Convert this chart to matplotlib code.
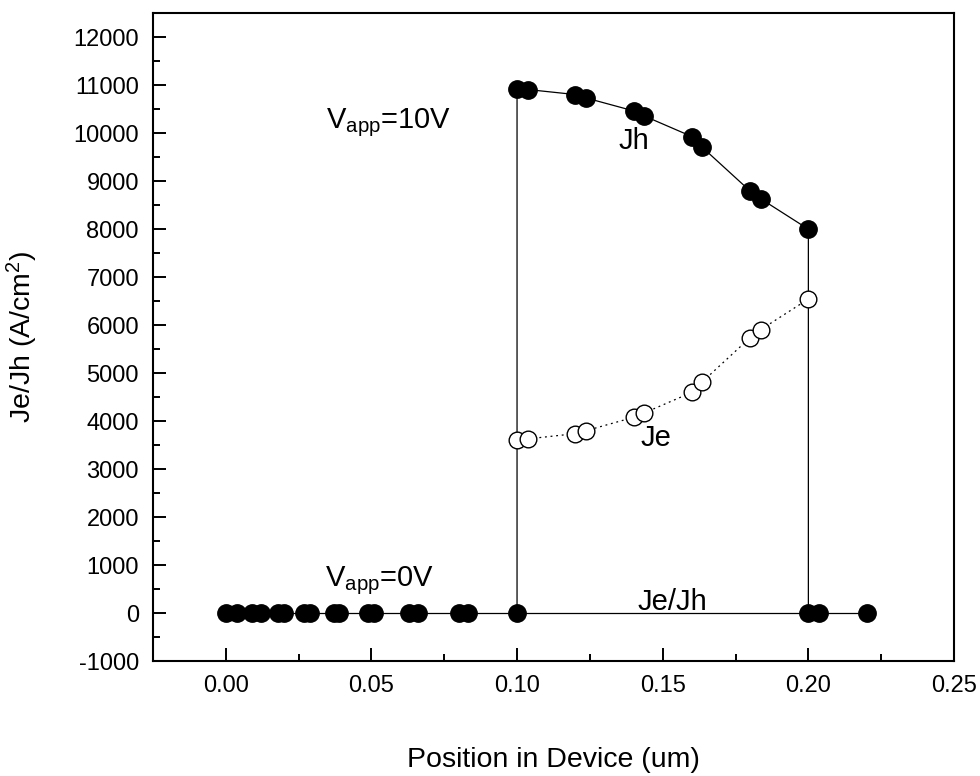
import numpy as np
import matplotlib
matplotlib.use('Agg')
import matplotlib.pyplot as plt
from matplotlib.ticker import MultipleLocator

plt.rcParams['font.family'] = ['Liberation Sans', 'DejaVu Sans']
plt.rcParams['mathtext.fontset'] = 'custom'
plt.rcParams['mathtext.rm'] = 'Liberation Sans'
plt.rcParams['mathtext.it'] = 'Liberation Sans'
plt.rcParams['axes.unicode_minus'] = False

# data
zero_x = [0.0, 0.004, 0.009, 0.012, 0.018, 0.020, 0.027, 0.029, 0.037, 0.039,
          0.049, 0.051, 0.063, 0.066, 0.080, 0.083, 0.100,
          0.200, 0.2036, 0.220]
zero_y = [0] * len(zero_x)

jh_x = [0.100, 0.1036, 0.120, 0.1236, 0.140, 0.1436, 0.160, 0.1636, 0.180, 0.1836, 0.200]
jh_y = [10930, 10910, 10805, 10735, 10465, 10360, 9930, 9705, 8795, 8635, 8000]

je_x = [0.100, 0.1036, 0.120, 0.1236, 0.140, 0.1436, 0.160, 0.1636, 0.180, 0.1836, 0.200]
je_y = [3600, 3630, 3740, 3800, 4080, 4170, 4600, 4820, 5740, 5905, 6545]

fig = plt.figure(figsize=(9.8, 7.76), dpi=100)
ax = fig.add_axes([0.156, 0.148, 0.8175, 0.835])

# zero line (Je/Jh at 0V)
ax.plot(zero_x, zero_y, color='black', lw=0.9, zorder=2)
ax.plot(zero_x, zero_y, 'o', color='black', ms=12.5, zorder=3)

# Jh with vertical jumps at the device edges
ax.plot([jh_x[0]] + jh_x + [jh_x[-1]], [0] + jh_y + [0], color='black', lw=0.9, zorder=2)
ax.plot(jh_x, jh_y, 'o', color='black', ms=12.5, zorder=3)

# Je dotted
ax.plot(je_x, je_y, color='black', lw=0.9, ls=(0, (1.5, 3)), zorder=2)
ax.plot(je_x, je_y, 'o', mfc='white', mec='black', mew=1.0, ms=12, zorder=3)

ax.text(0.0345, 10100, r'V$_{\mathrm{app}}$=10V', fontsize=21, va='baseline')
ax.text(0.034, 570, r'V$_{\mathrm{app}}$=0V', fontsize=21, va='baseline')
ax.text(0.135, 9680, 'Jh', fontsize=21, va='baseline')
ax.text(0.1425, 3480, 'Je', fontsize=21, va='baseline')
ax.text(0.1413, 70, 'Je/Jh', fontsize=21, va='baseline')

ax.set_xlim(-0.025, 0.25)
ax.set_ylim(-1000, 12500)
ax.xaxis.set_major_locator(MultipleLocator(0.05))
ax.xaxis.set_minor_locator(MultipleLocator(0.025))
ax.yaxis.set_major_locator(MultipleLocator(1000))
ax.yaxis.set_minor_locator(MultipleLocator(500))
ax.xaxis.set_major_formatter(plt.FuncFormatter(lambda v, p: '%.2f' % v))

ax.tick_params(which='both', direction='in', top=False, right=False, width=1.4)
ax.tick_params(which='major', length=9.5, labelsize=17, pad=10)
ax.tick_params(which='minor', length=5)
for s in ax.spines.values():
    s.set_linewidth(1.5)

ax.set_xlabel('Position in Device (um)', fontsize=20.5, labelpad=36)
ax.set_ylabel(r'Je/Jh (A/cm$^2$)', fontsize=20.5, labelpad=24)

fig.savefig('out.png', dpi=100)
